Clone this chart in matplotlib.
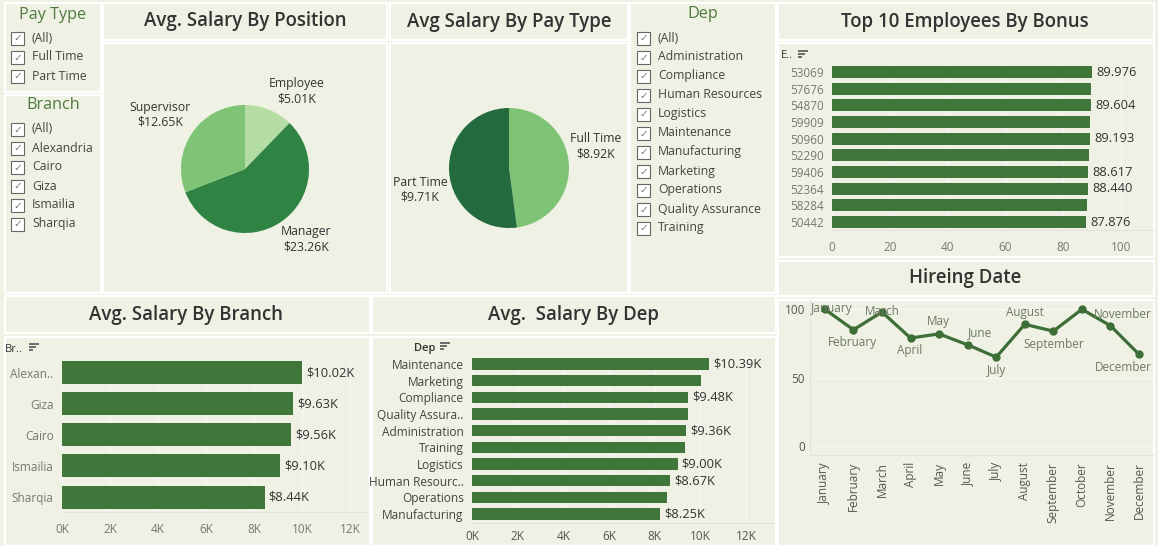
import matplotlib
matplotlib.use('Agg')
import matplotlib.pyplot as plt
from matplotlib.patches import Rectangle
from matplotlib.ticker import FuncFormatter

# ---------------- data ----------------
pay_type_items = ['(All)', 'Full Time', 'Part Time']
branch_items = ['(All)', 'Alexandria', 'Cairo', 'Giza', 'Ismailia', 'Sharqia']
dep_items = ['(All)', 'Administration', 'Compliance', 'Human Resources', 'Logistics',
             'Maintenance', 'Manufacturing', 'Marketing', 'Operations',
             'Quality Assurance', 'Training']

positions = ['Employee', 'Manager', 'Supervisor']
pos_salary = [5.01, 23.26, 12.65]

pay_types = ['Full Time', 'Part Time']
pay_salary = [8.92, 9.71]

emp_ids = ['53069', '57676', '54870', '59909', '50960', '52290', '59406', '52364', '58284', '50442']
bonus = [89.976, 89.70, 89.604, 89.30, 89.193, 88.75, 88.617, 88.440, 88.30, 87.876]
bonus_labeled = [True, False, True, False, True, False, True, True, False, True]

months = ['January', 'February', 'March', 'April', 'May', 'June', 'July',
          'August', 'September', 'October', 'November', 'December']
hires = [100, 85, 98, 79, 82, 74, 65, 89, 84, 100, 88, 67]

branches = ['Alexan..', 'Giza', 'Cairo', 'Ismailia', 'Sharqia']
branch_salary = [10.02, 9.63, 9.56, 9.10, 8.44]

deps = ['Maintenance', 'Marketing', 'Compliance', 'Quality Assura..', 'Administration',
        'Training', 'Logistics', 'Human Resourc..', 'Operations', 'Manufacturing']
dep_salary = [10.39, 10.04, 9.48, 9.47, 9.36, 9.34, 9.00, 8.67, 8.55, 8.25]
dep_labeled = [True, False, True, False, True, False, True, True, False, True]

# ---------------- style ----------------
W, H = 1158, 546
BG = '#EEF1E3'
BAR = '#41763A'
TITLE_C = '#333333'
FILTER_C = '#4E7A3E'
TICK_C = '#777777'
TXT = '#333333'
FONT = 'Open Sans'
VAL_FS = 9.3
plt.rcParams['font.family'] = [FONT, 'DejaVu Sans']

fig = plt.figure(figsize=(W / 100, H / 100), dpi=100)
fig.patch.set_facecolor(BG)
bg = fig.add_axes([0, 0, 1, 1])
bg.set_xlim(0, W)
bg.set_ylim(H, 0)
bg.axis('off')
bg.set_zorder(-10)


def px_axes(x0, y0, x1, y1):
    ax = fig.add_axes([x0 / W, 1 - y1 / H, (x1 - x0) / W, (y1 - y0) / H])
    ax.set_facecolor('none')
    return ax


def panel(x0, y0, x1, y1):
    bg.add_patch(Rectangle((x0, y0), x1 - x0, y1 - y0, facecolor=BG,
                           edgecolor='white', lw=1.6))


panels = [(5, 3, 101, 92), (5, 95, 101, 293),
          (103, 3, 387, 40), (103, 43, 387, 293),
          (390, 3, 628, 40), (390, 43, 628, 293),
          (630, 3, 776, 293),
          (778, 3, 1154, 40), (778, 43, 1154, 257),
          (778, 261, 1154, 296), (778, 300, 1154, 546),
          (5, 296, 370, 333), (5, 337, 370, 546),
          (372, 296, 776, 333), (372, 337, 776, 546)]
for p in panels:
    panel(*p)


def title(x, y, s):
    bg.text(x, y, s, ha='center', va='center', fontsize=13.4, color=TITLE_C,
            fontweight='semibold')


title(245, 21, 'Avg. Salary By Position')
title(509, 22, 'Avg Salary By Pay Type')
title(965, 22, 'Top 10 Employees By Bonus')
title(965, 278, 'Hireing Date')
title(186, 315, 'Avg. Salary By Branch')
title(573, 315, 'Avg.  Salary By Dep')


def checklist(x, y0, items, head, hx, hy):
    bg.text(hx, hy, head, ha='center', va='center', fontsize=11.6, color=FILTER_C)
    for i, it in enumerate(items):
        y = y0 + 19 * i
        bg.add_patch(Rectangle((x, y - 6.5), 13, 13, facecolor='white',
                               edgecolor='#666666', lw=0.8))
        bg.text(x + 6.5, y + 0.5, '\u2713', ha='center', va='center', fontsize=7.5,
                color='#777777', family='DejaVu Sans')
        bg.text(x + 21, y, it, ha='left', va='center', fontsize=8.8, color='#444444')


checklist(11, 38, pay_type_items, 'Pay Type', 53, 15)
checklist(11, 129, branch_items, 'Branch', 53, 105)
checklist(637, 38, dep_items, 'Dep', 703, 14)

# ---------------- pie: position ----------------
ax = px_axes(245 - 64, 169 - 64, 245 + 64, 169 + 64)
ax.pie(pos_salary, colors=['#B3DDA2', '#2F8444', '#7EC474'], startangle=90,
       counterclock=False, radius=1.0)
ax.set_xlim(-1, 1); ax.set_ylim(-1, 1)
for s, v, (x, y) in zip(positions, pos_salary, [(297, 84), (306, 232), (160, 107)]):
    bg.text(x, y, s, ha='center', va='center', fontsize=8.8, color=TXT)
    bg.text(x, y + 15, f'${v:.2f}K', ha='center', va='center', fontsize=8.8, color=TXT)

# ---------------- pie: pay type ----------------
ax = px_axes(509 - 60, 168 - 60, 509 + 60, 168 + 60)
ax.pie(pay_salary, colors=['#7EC474', '#236A3E'], startangle=90,
       counterclock=False, radius=1.0)
ax.set_xlim(-1, 1); ax.set_ylim(-1, 1)
for s, v, (x, y) in zip(pay_types, pay_salary, [(596, 139), (420, 182)]):
    bg.text(x, y, s, ha='center', va='center', fontsize=8.8, color=TXT)
    bg.text(x, y + 15, f'${v:.2f}K', ha='center', va='center', fontsize=8.8, color=TXT)


def style_bar_axes(ax):
    for s in ['top', 'right', 'left']:
        ax.spines[s].set_visible(False)
    ax.spines['bottom'].set_color('#E2E2E2')
    ax.tick_params(axis='both', length=0, colors=TICK_C, labelsize=8.5)
    ax.grid(axis='x', color='#F8F8F8', lw=0.8)
    ax.set_axisbelow(True)


def sort_icon(x, y):
    for k, L in enumerate([10, 7, 4]):
        bg.plot([x, x + L], [y - 4 + 3.2 * k, y - 4 + 3.2 * k], color='#555555', lw=1.2,
                solid_capstyle='butt')


# ---------------- top 10 bonus ----------------
ax = px_axes(832, 62, 1153, 230)
yy = list(range(len(emp_ids)))
ax.barh(yy, bonus, height=0.72, color=BAR)
ax.set_xlim(0, 111)
ax.set_ylim(9.48, -0.6)
ax.set_yticks(yy)
ax.set_yticklabels(emp_ids)
ax.set_xticks([0, 20, 40, 60, 80, 100])
style_bar_axes(ax)
ax.tick_params(axis='x', pad=8)
ax.tick_params(axis='y', pad=6)
for i, (v, show) in enumerate(zip(bonus, bonus_labeled)):
    if show:
        ax.annotate(f'{v:.3f}', (v, i), xytext=(3, 0), textcoords='offset points',
                    ha='left', va='center', fontsize=VAL_FS, color=TXT)
bg.text(781, 56, 'E..', ha='left', va='center', fontsize=8, color=TXT)
sort_icon(798, 55)

# ---------------- branch ----------------
ax = px_axes(62, 357, 368, 512)
yy = list(range(len(branches)))
ax.barh(yy, branch_salary, height=0.74, color=BAR)
ax.set_xlim(0, 12.75)
ax.set_ylim(4.48, -0.5)
ax.set_yticks(yy)
ax.set_yticklabels(branches)
ax.set_xticks([0, 2, 4, 6, 8, 10, 12])
ax.xaxis.set_major_formatter(FuncFormatter(lambda v, p: f'{int(v)}K'))
style_bar_axes(ax)
ax.tick_params(axis='x', pad=8)
ax.tick_params(axis='y', pad=6)
for i, v in enumerate(branch_salary):
    ax.annotate(f'${v:.2f}K', (v, i), xytext=(3, 0), textcoords='offset points',
                ha='left', va='center', fontsize=VAL_FS, color=TXT)
bg.text(5, 349, 'Br..', ha='left', va='center', fontsize=8, color=TXT)
sort_icon(29, 348)

# ---------------- dep ----------------
ax = px_axes(472, 355, 775, 523)
yy = list(range(len(deps)))
ax.barh(yy, dep_salary, height=0.68, color=BAR)
ax.set_xlim(0, 13.27)
ax.set_ylim(9.54, -0.54)
ax.set_yticks(yy)
ax.set_yticklabels(deps, color='#444444')
ax.set_xticks([0, 2, 4, 6, 8, 10, 12])
ax.xaxis.set_major_formatter(FuncFormatter(lambda v, p: f'{int(v)}K'))
style_bar_axes(ax)
ax.tick_params(axis='y', labelsize=8.6, labelcolor='#444444', pad=6)
ax.tick_params(axis='x', pad=5, labelcolor='#555555')
for i, (v, show) in enumerate(zip(dep_salary, dep_labeled)):
    if show:
        ax.annotate(f'${v:.2f}K', (v, i), xytext=(3, 0), textcoords='offset points',
                    ha='left', va='center', fontsize=VAL_FS, color=TXT)
bg.text(414, 348, 'Dep', ha='left', va='center', fontsize=8, color=TXT, fontweight='semibold')
sort_icon(440, 347)

# ---------------- hiring date ----------------
ax = px_axes(810, 300, 1153, 455)
xx = list(range(len(months)))
ax.plot(xx, hires, color='#3E6E37', lw=2.3, marker='o', markersize=5)
ax.set_xlim(-0.52, 11.49)
ax.set_ylim(-6.6, 106.8)
ax.set_xticks(xx)
ax.set_xticklabels(months, rotation=90, va='top', ha='center')
ax.set_yticks([0, 50, 100])
for s in ['top', 'right']:
    ax.spines[s].set_visible(False)
ax.spines['bottom'].set_color('#E2E2E2')
ax.spines['left'].set_color('#E2E2E2')
ax.tick_params(axis='both', length=0, colors='#555555', labelsize=8.5)
ax.tick_params(axis='x', pad=5)
ax.grid(axis='y', color='#F8F8F8', lw=0.8)
ax.set_axisbelow(True)
label_off = [(7, -1), (-1, 13), (0, -1), (-1, 13), (-1, -12), (12, -12),
             (0, 13), (0, -12), (0, 13), None, (12, -11), (-16, 13)]
for i, (v, off) in enumerate(zip(hires, label_off)):
    if off is None:
        continue
    ax.annotate(months[i], (i, v), xytext=(off[0] * 0.72, -off[1] * 0.72),
                textcoords='offset points', ha='center', va='center',
                fontsize=8.5, color='#6E7A64')

fig.savefig('out.png', dpi=100, facecolor=BG)
